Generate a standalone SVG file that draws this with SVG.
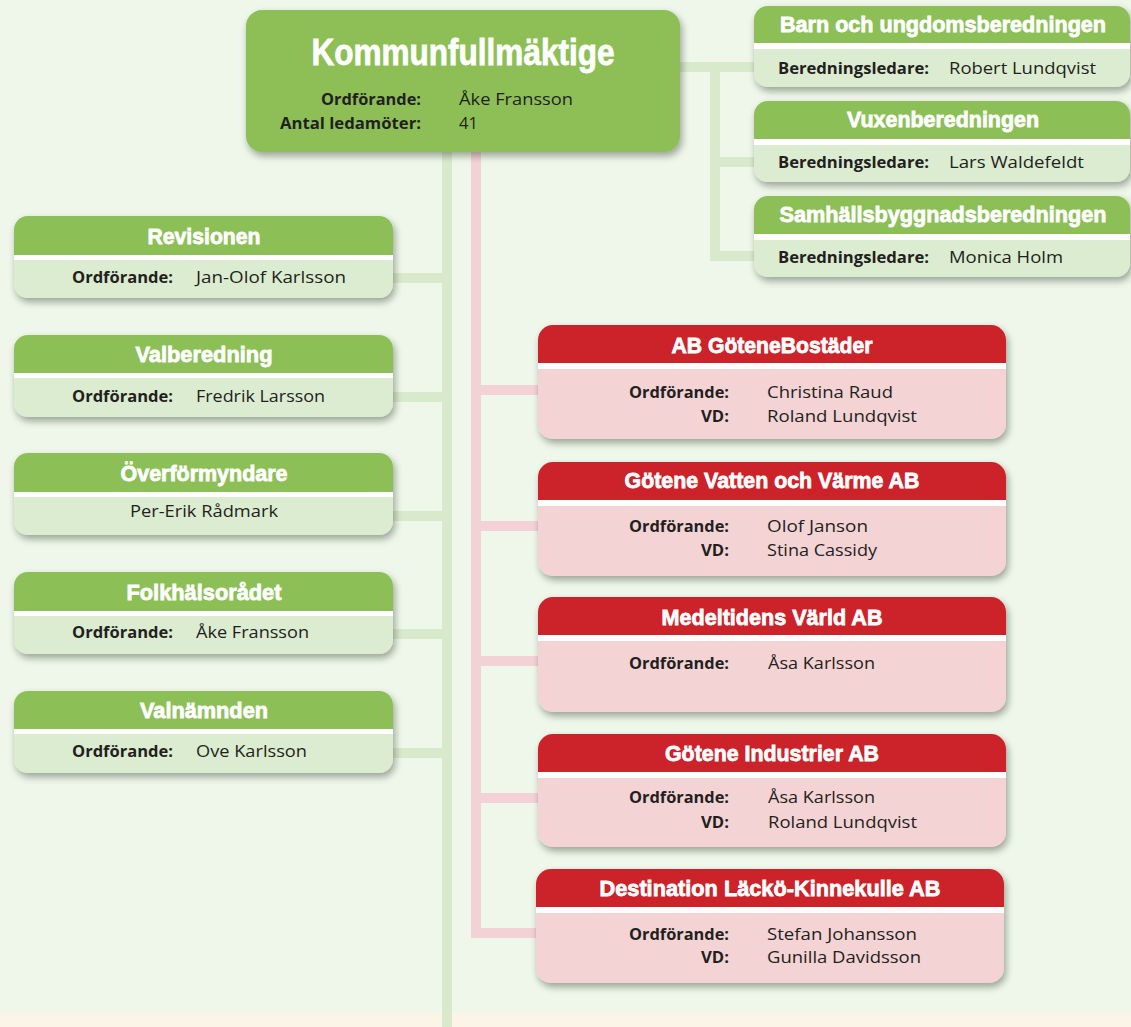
<svg xmlns="http://www.w3.org/2000/svg" width="1131" height="1027" viewBox="0 0 1131 1027">
<defs>
<filter id="sh" x="-10%" y="-20%" width="125%" height="150%">
<feDropShadow dx="2" dy="4" stdDeviation="3.5" flood-color="#1e2a18" flood-opacity="0.4"/>
</filter>
<style>
.t{font-family:"Liberation Sans",Arial,sans-serif;font-weight:bold;fill:#fff;text-anchor:middle;stroke:#fff;stroke-width:0.8}
.l{font-family:"Open Sans","Noto Sans",sans-serif;font-weight:bold;font-size:16px;fill:#231f20;text-anchor:end}
.v{font-family:"Open Sans","Noto Sans",sans-serif;font-size:16.5px;fill:#231f20}
.gb{fill:#dcecd0}
.gh{fill:#8dbf57}
.rb{fill:#f4d3d5}
.rh{fill:#cc2229}
.ws{fill:#fff}
.cg{fill:none;stroke:#d9eacc;stroke-width:10;stroke-linejoin:miter}
.cr{fill:none;stroke:#f3d2d5;stroke-width:10;stroke-linejoin:miter}
</style>
</defs>
<rect x="0" y="0" width="1131" height="1027" fill="#eff7ea"/>
<rect x="0" y="1013" width="1131" height="14" fill="#fcf4e7"/>

<g id="connectors">
<path class="cg" d="M447 152 V1027"/>
<path class="cg" d="M447 278 H393 M447 397 H393 M447 516 H393 M447 634 H393 M447 753 H393"/>
<path class="cg" d="M680 67 H754 M715 67 V261 M715 162 H754 M715 256 H754"/>
<path class="cr" d="M476 152 V933 H536"/>
<path class="cr" d="M476 390 H538 M476 526 H538 M476 661 H538 M476 798 H538"/>
</g>

<g id="kommunfullmaktige">
<rect x="246" y="10" width="434" height="142" rx="16" class="gh" filter="url(#sh)"/>
<text class="t" x="463" y="65" font-size="37" stroke-width="1" textLength="303" lengthAdjust="spacingAndGlyphs">Kommunfullmäktige</text>
<text class="l" x="421" y="105" textLength="100" lengthAdjust="spacingAndGlyphs">Ordförande:</text>
<text class="v" x="459" y="105" textLength="114" lengthAdjust="spacingAndGlyphs">Åke Fransson</text>
<text class="l" x="421" y="129" textLength="141" lengthAdjust="spacingAndGlyphs">Antal ledamöter:</text>
<text class="v" x="459" y="129">41</text>
</g>

<g id="barn-och-ungdomsberedningen">
<rect x="754" y="6" width="376" height="81" rx="14" class="gb" filter="url(#sh)"/>
<path class="gh" d="M754 20 A14 14 0 0 1 768 6 H1116 A14 14 0 0 1 1130 20 V43 H754 Z"/>
<rect x="754" y="43" width="376" height="6" class="ws"/>
<text class="t" x="943" y="32" font-size="22.5" textLength="326" lengthAdjust="spacingAndGlyphs">Barn och ungdomsberedningen</text>
<text class="l" x="929" y="74" textLength="151" lengthAdjust="spacingAndGlyphs">Beredningsledare:</text>
<text class="v" x="949" y="74" textLength="147" lengthAdjust="spacingAndGlyphs">Robert Lundqvist</text>
</g>

<g id="vuxenberedningen">
<rect x="754" y="101" width="376" height="81" rx="14" class="gb" filter="url(#sh)"/>
<path class="gh" d="M754 115 A14 14 0 0 1 768 101 H1116 A14 14 0 0 1 1130 115 V139 H754 Z"/>
<rect x="754" y="139" width="376" height="6" class="ws"/>
<text class="t" x="943" y="127" font-size="22.5" textLength="192" lengthAdjust="spacingAndGlyphs">Vuxenberedningen</text>
<text class="l" x="929" y="168" textLength="151" lengthAdjust="spacingAndGlyphs">Beredningsledare:</text>
<text class="v" x="949" y="168" textLength="135" lengthAdjust="spacingAndGlyphs">Lars Waldefeldt</text>
</g>

<g id="samhallsbyggnadsberedningen">
<rect x="754" y="196" width="376" height="81" rx="14" class="gb" filter="url(#sh)"/>
<path class="gh" d="M754 210 A14 14 0 0 1 768 196 H1116 A14 14 0 0 1 1130 210 V234 H754 Z"/>
<rect x="754" y="234" width="376" height="6" class="ws"/>
<text class="t" x="943" y="222" font-size="22.5" textLength="327" lengthAdjust="spacingAndGlyphs">Samhällsbyggnadsberedningen</text>
<text class="l" x="929" y="263" textLength="151" lengthAdjust="spacingAndGlyphs">Beredningsledare:</text>
<text class="v" x="949" y="263" textLength="114" lengthAdjust="spacingAndGlyphs">Monica Holm</text>
</g>

<g id="revisionen">
<rect x="14" y="216" width="379" height="82" rx="14" class="gb" filter="url(#sh)"/>
<path class="gh" d="M14 230 A14 14 0 0 1 28 216 H379 A14 14 0 0 1 393 230 V255 H14 Z"/>
<rect x="14" y="255" width="379" height="5" class="ws"/>
<text class="t" x="204" y="244" font-size="22.5" textLength="113" lengthAdjust="spacingAndGlyphs">Revisionen</text>
<text class="l" x="173" y="283" textLength="101" lengthAdjust="spacingAndGlyphs">Ordförande:</text>
<text class="v" x="196" y="283" textLength="150" lengthAdjust="spacingAndGlyphs">Jan-Olof Karlsson</text>
</g>

<g id="valberedning">
<rect x="14" y="335" width="379" height="82" rx="14" class="gb" filter="url(#sh)"/>
<path class="gh" d="M14 349 A14 14 0 0 1 28 335 H379 A14 14 0 0 1 393 349 V373 H14 Z"/>
<rect x="14" y="373" width="379" height="5" class="ws"/>
<text class="t" x="204" y="362" font-size="22.5" textLength="137" lengthAdjust="spacingAndGlyphs">Valberedning</text>
<text class="l" x="173" y="402" textLength="101" lengthAdjust="spacingAndGlyphs">Ordförande:</text>
<text class="v" x="196" y="402" textLength="129" lengthAdjust="spacingAndGlyphs">Fredrik Larsson</text>
</g>

<g id="overformyndare">
<rect x="14" y="453" width="379" height="82" rx="14" class="gb" filter="url(#sh)"/>
<path class="gh" d="M14 467 A14 14 0 0 1 28 453 H379 A14 14 0 0 1 393 467 V492 H14 Z"/>
<rect x="14" y="492" width="379" height="5" class="ws"/>
<text class="t" x="204" y="481" font-size="22.5" textLength="167" lengthAdjust="spacingAndGlyphs">Överförmyndare</text>
<text class="v" x="204" y="517" text-anchor="middle" textLength="148" lengthAdjust="spacingAndGlyphs">Per-Erik Rådmark</text>
</g>

<g id="folkhalsoradet">
<rect x="14" y="572" width="379" height="82" rx="14" class="gb" filter="url(#sh)"/>
<path class="gh" d="M14 586 A14 14 0 0 1 28 572 H379 A14 14 0 0 1 393 586 V611 H14 Z"/>
<rect x="14" y="611" width="379" height="5" class="ws"/>
<text class="t" x="204" y="600" font-size="22.5" textLength="155" lengthAdjust="spacingAndGlyphs">Folkhälsorådet</text>
<text class="l" x="173" y="638" textLength="101" lengthAdjust="spacingAndGlyphs">Ordförande:</text>
<text class="v" x="196" y="638" textLength="113" lengthAdjust="spacingAndGlyphs">Åke Fransson</text>
</g>

<g id="valnamnden">
<rect x="14" y="691" width="379" height="82" rx="14" class="gb" filter="url(#sh)"/>
<path class="gh" d="M14 705 A14 14 0 0 1 28 691 H379 A14 14 0 0 1 393 705 V729 H14 Z"/>
<rect x="14" y="729" width="379" height="5" class="ws"/>
<text class="t" x="204" y="718" font-size="22.5" textLength="128" lengthAdjust="spacingAndGlyphs">Valnämnden</text>
<text class="l" x="173" y="757" textLength="101" lengthAdjust="spacingAndGlyphs">Ordförande:</text>
<text class="v" x="196" y="757" textLength="111" lengthAdjust="spacingAndGlyphs">Ove Karlsson</text>
</g>

<g id="ab-gotenebostader">
<rect x="538" y="325" width="468" height="114" rx="15" class="rb" filter="url(#sh)"/>
<path class="rh" d="M538 340 A15 15 0 0 1 553 325 H991 A15 15 0 0 1 1006 340 V363 H538 Z"/>
<rect x="538" y="363" width="468" height="6" class="ws"/>
<text class="t" x="772" y="353" font-size="22.5" textLength="201" lengthAdjust="spacingAndGlyphs">AB GöteneBostäder</text>
<text class="l" x="729" y="398" textLength="100" lengthAdjust="spacingAndGlyphs">Ordförande:</text>
<text class="v" x="767" y="398" textLength="126" lengthAdjust="spacingAndGlyphs">Christina Raud</text>
<text class="l" x="729" y="422" textLength="28" lengthAdjust="spacingAndGlyphs">VD:</text>
<text class="v" x="767" y="422" textLength="150" lengthAdjust="spacingAndGlyphs">Roland Lundqvist</text>
</g>

<g id="gotene-vatten-och-varme">
<rect x="538" y="462" width="468" height="114" rx="15" class="rb" filter="url(#sh)"/>
<path class="rh" d="M538 477 A15 15 0 0 1 553 462 H991 A15 15 0 0 1 1006 477 V500 H538 Z"/>
<rect x="538" y="500" width="468" height="6" class="ws"/>
<text class="t" x="772" y="488" font-size="22.5" textLength="295" lengthAdjust="spacingAndGlyphs">Götene Vatten och Värme AB</text>
<text class="l" x="729" y="532" textLength="100" lengthAdjust="spacingAndGlyphs">Ordförande:</text>
<text class="v" x="767" y="532" textLength="101" lengthAdjust="spacingAndGlyphs">Olof Janson</text>
<text class="l" x="729" y="556" textLength="28" lengthAdjust="spacingAndGlyphs">VD:</text>
<text class="v" x="767" y="556" textLength="110" lengthAdjust="spacingAndGlyphs">Stina Cassidy</text>
</g>

<g id="medeltidens-varld">
<rect x="538" y="597" width="468" height="115" rx="15" class="rb" filter="url(#sh)"/>
<path class="rh" d="M538 612 A15 15 0 0 1 553 597 H991 A15 15 0 0 1 1006 612 V635 H538 Z"/>
<rect x="538" y="635" width="468" height="6" class="ws"/>
<text class="t" x="772" y="625" font-size="22.5" textLength="221" lengthAdjust="spacingAndGlyphs">Medeltidens Värld AB</text>
<text class="l" x="729" y="669" textLength="100" lengthAdjust="spacingAndGlyphs">Ordförande:</text>
<text class="v" x="768" y="669" textLength="107" lengthAdjust="spacingAndGlyphs">Åsa Karlsson</text>
</g>

<g id="gotene-industrier">
<rect x="538" y="734" width="468" height="113" rx="15" class="rb" filter="url(#sh)"/>
<path class="rh" d="M538 749 A15 15 0 0 1 553 734 H991 A15 15 0 0 1 1006 749 V772 H538 Z"/>
<rect x="538" y="772" width="468" height="6" class="ws"/>
<text class="t" x="772" y="761" font-size="22.5" textLength="214" lengthAdjust="spacingAndGlyphs">Götene Industrier AB</text>
<text class="l" x="729" y="803" textLength="100" lengthAdjust="spacingAndGlyphs">Ordförande:</text>
<text class="v" x="768" y="803" textLength="107" lengthAdjust="spacingAndGlyphs">Åsa Karlsson</text>
<text class="l" x="729" y="828" textLength="28" lengthAdjust="spacingAndGlyphs">VD:</text>
<text class="v" x="768" y="828" textLength="149" lengthAdjust="spacingAndGlyphs">Roland Lundqvist</text>
</g>

<g id="destination-lacko-kinnekulle">
<rect x="536" y="869" width="468" height="114" rx="15" class="rb" filter="url(#sh)"/>
<path class="rh" d="M536 884 A15 15 0 0 1 551 869 H989 A15 15 0 0 1 1004 884 V907 H536 Z"/>
<rect x="536" y="907" width="468" height="6" class="ws"/>
<text class="t" x="770" y="896" font-size="22.5" textLength="341" lengthAdjust="spacingAndGlyphs">Destination Läckö-Kinnekulle AB</text>
<text class="l" x="729" y="940" textLength="100" lengthAdjust="spacingAndGlyphs">Ordförande:</text>
<text class="v" x="767" y="940" textLength="150" lengthAdjust="spacingAndGlyphs">Stefan Johansson</text>
<text class="l" x="729" y="963" textLength="28" lengthAdjust="spacingAndGlyphs">VD:</text>
<text class="v" x="767" y="963" textLength="154" lengthAdjust="spacingAndGlyphs">Gunilla Davidsson</text>
</g>
</svg>
